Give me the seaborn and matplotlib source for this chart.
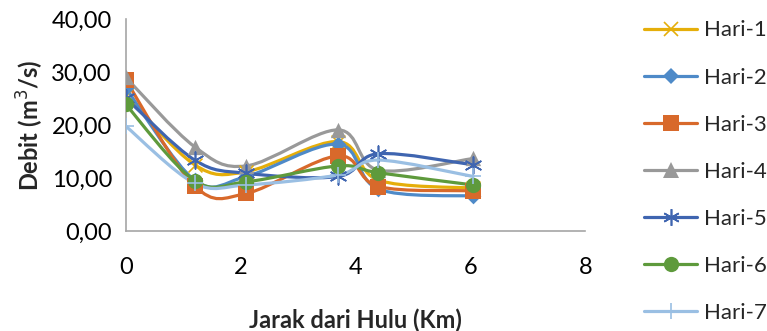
import numpy as np
import matplotlib
matplotlib.use("Agg")
import matplotlib.pyplot as plt
import seaborn as sns
from matplotlib.path import Path
from matplotlib.patches import PathPatch
from matplotlib.lines import Line2D
from matplotlib.ticker import FuncFormatter, MultipleLocator

# data (jarak dari hulu, km) & debit per hari
jarak = [0, 1.2, 2.1, 3.7, 4.4, 6.05]
hari_1 = [25.7, 12.5, 11.2, 16.9, 9.6, 8.1]
hari_2 = [27.0, 9.6, 10.3, 16.4, 7.9, 6.6]
hari_3 = [28.5, 8.5, 7.1, 14.2, 8.4, 7.6]
hari_4 = [29.0, 15.9, 12.3, 19.1, 11.5, 13.7]
hari_5 = [25.1, 13.4, 10.9, 10.3, 14.6, 12.5]
hari_6 = [23.9, 9.5, 9.3, 12.3, 11.0, 8.7]
hari_7 = [19.8, 9.0, 8.7, 10.6, 13.4, 10.3]
labels = ["Hari-1", "Hari-2", "Hari-3", "Hari-4", "Hari-5", "Hari-6", "Hari-7"]
series = [hari_1, hari_2, hari_3, hari_4, hari_5, hari_6, hari_7]

colors = ["#E5AE0A", "#4E8AC8", "#D8692B", "#999999", "#3F65B0", "#5E9A3C", "#9ABFE3"]
markers = ["x", "D", "s", "^", (6, 2, 0), "o", "+"]
msizes = [10, 8, 11, 11, 12, 11, 12]

sns.set_theme(style="white")
plt.rcParams['font.family'] = ['Lato', 'DejaVu Sans']


def smooth_path(xs, ys):
    # garis halus ala Excel (Catmull-Rom -> bezier)
    pts = np.column_stack([xs, ys]).astype(float)
    n = len(pts)
    verts = [pts[0]]
    codes = [Path.MOVETO]
    for i in range(n - 1):
        p0 = pts[i - 1] if i > 0 else pts[i]
        p1 = pts[i]
        p2 = pts[i + 1]
        p3 = pts[i + 2] if i + 2 < n else pts[i + 1]
        c1 = p1 + (p2 - p0) / 6
        c2 = p2 - (p3 - p1) / 6
        verts += [c1, c2, p2]
        codes += [Path.CURVE4] * 3
    return Path(verts, codes)


fig = plt.figure(figsize=(7.67, 3.31), dpi=100)
ax = fig.add_axes([0.164, 0.302, 0.599, 0.640])

handles = []
for lab, ys, c, m, ms in zip(labels, series, colors, markers, msizes):
    ax.add_patch(PathPatch(smooth_path(jarak, ys), facecolor="none",
                           edgecolor=c, lw=2.3, capstyle="round", zorder=2))
    thin = m in ("x", "+", (6, 2, 0))
    sns.scatterplot(x=jarak, y=ys, ax=ax, marker=m, s=ms ** 2,
                    color=c, edgecolor=c if not thin else None,
                    linewidth=1.2 if thin else 0, zorder=3, legend=False)
    handles.append(Line2D([0], [0], color=c, lw=2.3, marker=m, markersize=ms,
                          markeredgewidth=1.2 if thin else 0,
                          markerfacecolor=c, markeredgecolor=c,
                          solid_capstyle="round"))

ax.set_xlim(0, 8)
ax.set_ylim(0, 40)
ax.xaxis.set_major_locator(MultipleLocator(2))
ax.yaxis.set_major_locator(MultipleLocator(10))
ax.yaxis.set_major_formatter(FuncFormatter(lambda v, p: f"{v:.2f}".replace(".", ",")))

for s in ["top", "right"]:
    ax.spines[s].set_visible(False)
for s in ["left", "bottom"]:
    ax.spines[s].set_color("#A6A6A6")
    ax.spines[s].set_linewidth(1.2)
ax.tick_params(axis="both", which="major", direction="out", length=6, width=1.2,
               color="#A6A6A6", labelsize=17, labelcolor="black", pad=4)
ax.tick_params(axis="x", pad=13)

ax.set_xlabel("Jarak dari Hulu (Km)", fontsize=17, fontweight="bold", labelpad=22)
ax.set_ylabel("Debit (m$^3$/s)", fontsize=17, fontweight="bold", labelpad=4)

fig.legend(handles=handles, labels=labels, loc="upper left",
           bbox_to_anchor=(0.828, 0.965), frameon=False, fontsize=16,
           handlelength=2.4, handletextpad=0.3, labelspacing=1.22,
           borderaxespad=0.0)

fig.savefig("out.png", dpi=100)
